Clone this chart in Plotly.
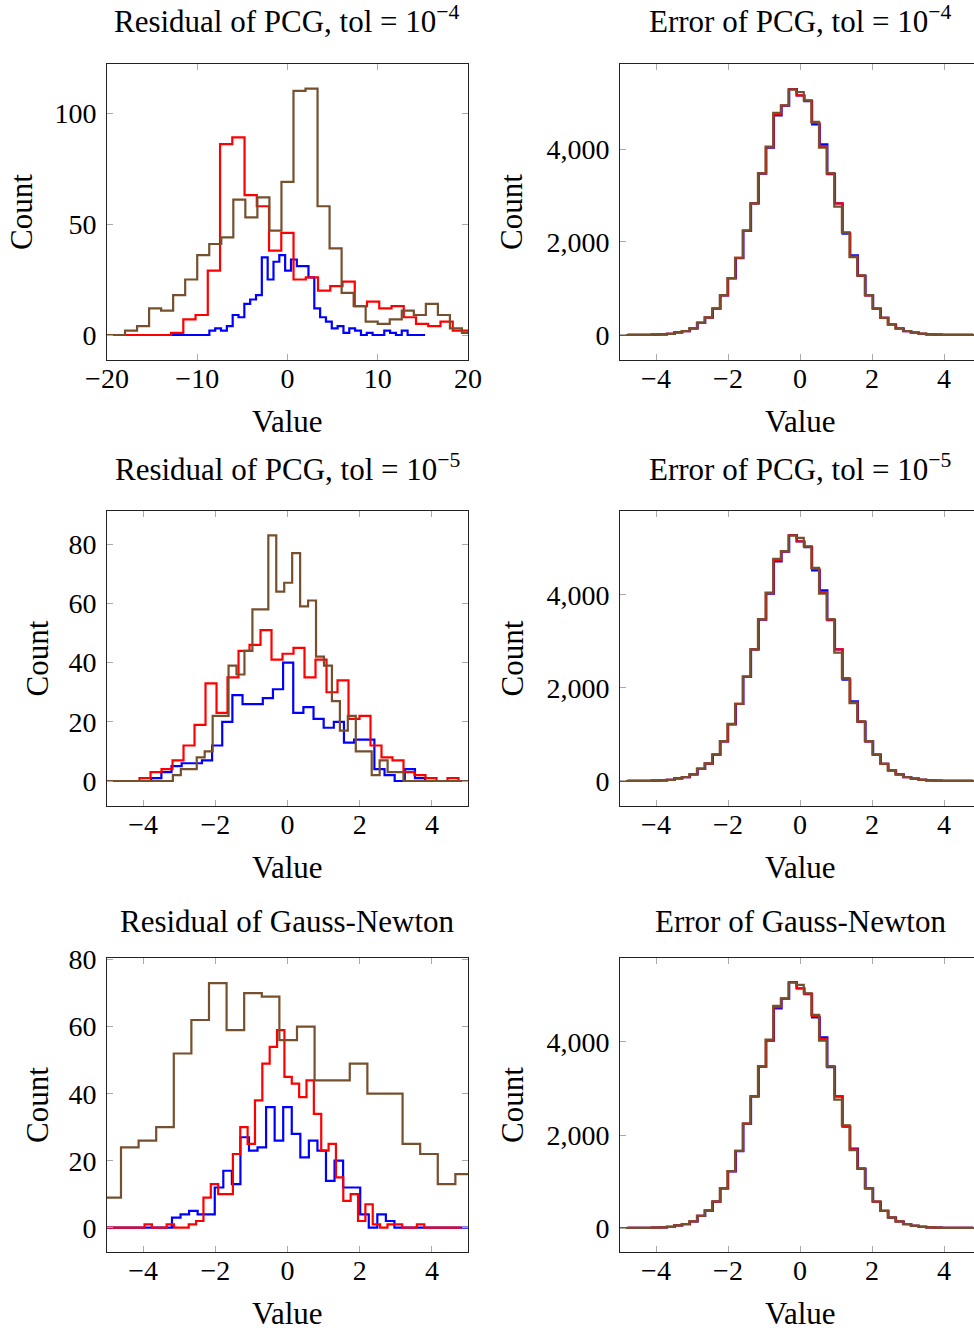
import plotly.graph_objects as go

W, H = 974, 1332
FONT = "Liberation Serif"
FS_TICK = 28
FS_TEXT = 31
BLUE, RED, BROWN = "#0000ff", "#ff0000", "#76502d"

# ---------------- data (bin start, bin width, counts) ----------------
# Residual of PCG, tol = 1e-4
res4_blue_start, res4_blue_width = -13.18, 0.646
res4_blue = [0, 0, 0, 0, 0, 0, 0,
             2, 3, 2, 4, 9, 8, 14, 16, 18, 35, 25, 33, 36, 29, 34, 31, 31, 26, 12, 8,
             6, 3, 4, 1, 3, 2, 0, 1, 0, 0, 2, 1, 0, 2, 0, 0, 0]
res4_red_start, res4_red_width = -18.33, 1.357
res4_red = [0, 0, 0, 0, 1, 7, 9, 29, 86, 89, 63, 58, 38, 46, 25, 26, 20, 22, 24, 13,
            15, 12, 13, 8, 5, 4, 6, 2, 2]
res4_brown_start, res4_brown_width = -20.67, 1.3333
res4_brown = [0, 0, 2, 4, 12, 11, 18, 25, 36, 41, 44, 61, 53, 62, 47, 69, 110, 111,
              58, 39, 19, 13, 6, 5, 7, 11, 9, 14, 9, 3, 1]

# Residual of PCG, tol = 1e-5
res5_blue_start, res5_blue_width = -5.18, 0.281
res5_blue = [0, 0, 0, 0, 0,
             1, 3, 5, 6, 6, 7, 12, 20, 29, 26, 26, 28, 31, 40, 23, 25, 21, 18, 20, 13,
             14, 14, 4, 2, 0, 4, 1, 0, 0, 0, 0, 0]
res5_red_start, res5_red_width = -5.318, 0.3047
res5_red = [0, 0, 0, 0,
            1, 3, 4, 7, 12, 19, 33, 23, 35, 44, 46, 51, 41, 43, 45, 35, 41, 30, 34, 21,
            22, 12, 8, 7, 3, 2, 1, 0, 1, 0, 0]
res5_brown_start, res5_brown_width = -5.378, 0.2203
res5_brown = [0] * 10 + [2, 4, 4, 8, 10, 22, 22, 39, 36, 44, 58, 58, 83, 64, 67, 77, 59,
                         61, 42, 39, 27, 17, 22, 10, 10, 2, 7, 3, 3] + [0] * 10

# Residual of Gauss-Newton
gn_blue_start, gn_blue_width = -5.333, 0.237
gn_blue = [0] * 9 + [3, 4, 5, 4, 4, 12, 17, 13, 27, 23, 24, 36, 26, 36, 28, 21, 26, 23,
                     14, 20, 12, 12, 4, 0, 4, 2, 0] + [0] * 9
gn_red_start, gn_red_width = -5.183, 0.2039
gn_red = [0] * 6 + [1, 0, 0, 1, 0, 0, 1, 2, 9, 13, 10, 10, 22, 30, 25, 38, 49, 54, 59,
                    45, 43, 39, 44, 34, 23, 25, 15, 8, 10, 2, 7, 1, 0, 1, 1, 0, 0, 1] + [0] * 5
gn_brown_start, gn_brown_width = -5.10, 0.4875
gn_brown = [9, 24, 26, 30, 52, 62, 73, 59, 70, 69, 56, 60, 44, 44, 49, 40, 40, 25, 22, 13, 16]

# Error panels (same distribution in all three rows)
err_brown_start, err_blue_start, err_red_start, err_width = -5.196, -5.176, -5.186, 0.212
err_brown = [0, 0, 1, 1, 3, 6, 12, 25,
             57, 86, 143, 264, 378, 570, 856, 1226, 1661, 2246, 2831, 3480, 4050, 4777,
             4941, 5276, 5226, 5048, 4585, 4029, 3480, 2759, 2210, 1676, 1283, 856, 570,
             371, 228, 143, 86, 50, 28, 14, 7, 4, 2, 1, 1, 0, 0]
err_blue = [0, 0, 1, 1, 3, 6, 12, 24,
            55, 84, 140, 260, 372, 566, 850, 1218, 1655, 2240, 2830, 3470, 4030, 4720,
            4930, 5290, 5150, 5030, 4530, 4100, 3460, 2830, 2180, 1710, 1270, 850, 565,
            368, 225, 140, 84, 49, 27, 13, 7, 4, 2, 1, 1, 0, 0]
err_red = [0, 0, 1, 1, 3, 6, 12, 24,
           56, 85, 141, 262, 375, 568, 853, 1222, 1658, 2243, 2831, 3475, 4040, 4750,
           4935, 5285, 5155, 5040, 4560, 4060, 3470, 2831, 2195, 1690, 1278, 853, 568,
           370, 226, 141, 85, 49, 27, 13, 7, 4, 2, 1, 1, 0, 0]

titles = ["Residual of PCG, tol = 10<sup>\u22124</sup>", "Error of PCG, tol = 10<sup>\u22124</sup>",
          "Residual of PCG, tol = 10<sup>\u22125</sup>", "Error of PCG, tol = 10<sup>\u22125</sup>",
          "Residual of Gauss-Newton", "Error of Gauss-Newton"]
x_ticks_wide = [-20, -10, 0, 10, 20]
x_ticks_narrow = [-4, -2, 0, 2, 4]
y_ticks_res4 = [0, 50, 100]
y_ticks_res = [0, 20, 40, 60, 80]
y_ticks_err = [0, 2000, 4000]

# ---------------- layout geometry ----------------
LEFT_X = (107, 468)
RIGHT_X = (620, 974)
ROWS_Y = [(64, 360), (511, 806), (958, 1252)]
TITLE_OFFSET = [44, 44, 37]


def px_x(p):
    return p / W


def px_y(p):
    return 1 - p / H


def step_xy(start, width, counts):
    xs = [start + i * width for i in range(len(counts) + 1)]
    ys = list(counts) + [counts[-1]]
    return xs, ys


panels = [
    (0, 0, [(res4_blue_start, res4_blue_width, res4_blue, BLUE),
            (res4_red_start, res4_red_width, res4_red, RED),
            (res4_brown_start, res4_brown_width, res4_brown, BROWN)],
     [-20, 20], [-11.26, 122.07], x_ticks_wide, y_ticks_res4),
    (0, 1, [(err_blue_start, err_width, err_blue, BLUE),
            (err_red_start, err_width, err_red, RED),
            (err_brown_start, err_width, err_brown, BROWN)],
     [-5, -5 + 354 / 36], [-538, 5828], x_ticks_narrow, y_ticks_err),
    (1, 0, [(res5_blue_start, res5_blue_width, res5_blue, BLUE),
            (res5_red_start, res5_red_width, res5_red, RED),
            (res5_brown_start, res5_brown_width, res5_brown, BROWN)],
     [-5, 5], [-8.45, 91.25], x_ticks_narrow, y_ticks_res),
    (1, 1, [(err_blue_start, err_width, err_blue, BLUE),
            (err_red_start, err_width, err_red, RED),
            (err_brown_start, err_width, err_brown, BROWN)],
     [-5, -5 + 354 / 36], [-538, 5806], x_ticks_narrow, y_ticks_err),
    (2, 0, [(gn_blue_start, gn_blue_width, gn_blue, BLUE),
            (gn_red_start, gn_red_width, gn_red, RED),
            (gn_brown_start, gn_brown_width, gn_brown, BROWN)],
     [-5, 5], [-7.25, 80.5], x_ticks_narrow, y_ticks_res),
    (2, 1, [(err_blue_start, err_width, err_blue, BLUE),
            (err_red_start, err_width, err_red, RED),
            (err_brown_start, err_width, err_brown, BROWN)],
     [-5, -5 + 354 / 36], [-516, 5806], x_ticks_narrow, y_ticks_err),
]

fig = go.Figure()
layout = dict(
    width=W, height=H, margin=dict(l=0, r=0, t=0, b=0, autoexpand=False),
    paper_bgcolor="white", plot_bgcolor="white", showlegend=False,
    font=dict(family=FONT, size=FS_TICK, color="black"),
)
annotations = []

for idx, (row, col, series, xr, yr, xt, yt) in enumerate(panels):
    n = idx + 1
    xa = "x" if n == 1 else f"x{n}"
    ya = "y" if n == 1 else f"y{n}"
    for start, width, counts, color in series:
        xs, ys = step_xy(start, width, counts)
        fig.add_trace(go.Scatter(x=xs, y=ys, mode="lines", line=dict(color=color, width=2.2, shape="hv"),
                                 xaxis=xa, yaxis=ya, hoverinfo="skip"))
    cx = LEFT_X if col == 0 else RIGHT_X
    ry = ROWS_Y[row]
    common = dict(showgrid=False, zeroline=False, showline=True, linecolor="#222222", linewidth=1,
                  ticks="inside", ticklen=6, tickwidth=1, tickcolor="#aaaaaa", automargin=False,
                  tickfont=dict(family=FONT, size=FS_TICK, color="black"), fixedrange=True)
    layout["xaxis" if n == 1 else f"xaxis{n}"] = dict(
        domain=[px_x(cx[0]), px_x(cx[1])], range=xr, anchor=ya, tickvals=xt,
        mirror="ticks", ticklabelstandoff=-7, **common)
    layout["yaxis" if n == 1 else f"yaxis{n}"] = dict(
        domain=[px_y(ry[1]), px_y(ry[0])], range=yr, anchor=xa, tickvals=yt, tickformat=",d",
        mirror="ticks" if col == 0 else False, ticklabelstandoff=4, **common)
    ccx = (cx[0] + (cx[0] + 360)) / 2
    annotations.append(dict(text=titles[idx], x=px_x(ccx), y=px_y(ry[0] - TITLE_OFFSET[row]),
                            xref="paper", yref="paper",
                            xanchor="center", yanchor="middle", showarrow=False,
                            font=dict(family=FONT, size=FS_TEXT)))
    annotations.append(dict(text="Value", x=px_x(ccx), y=px_y(ry[1] + 61), xref="paper", yref="paper",
                            xanchor="center", yanchor="middle", showarrow=False,
                            font=dict(family=FONT, size=FS_TEXT)))
    ylx = 22 if (col == 0 and row == 0) else (37 if col == 0 else 512)
    annotations.append(dict(text="Count", x=px_x(ylx), y=px_y((ry[0] + ry[1]) / 2), xref="paper",
                            yref="paper", xanchor="center", yanchor="middle", textangle=-90,
                            showarrow=False, font=dict(family=FONT, size=FS_TEXT)))

layout["annotations"] = annotations
fig.update_layout(**layout)
fig.write_html("out.html")
